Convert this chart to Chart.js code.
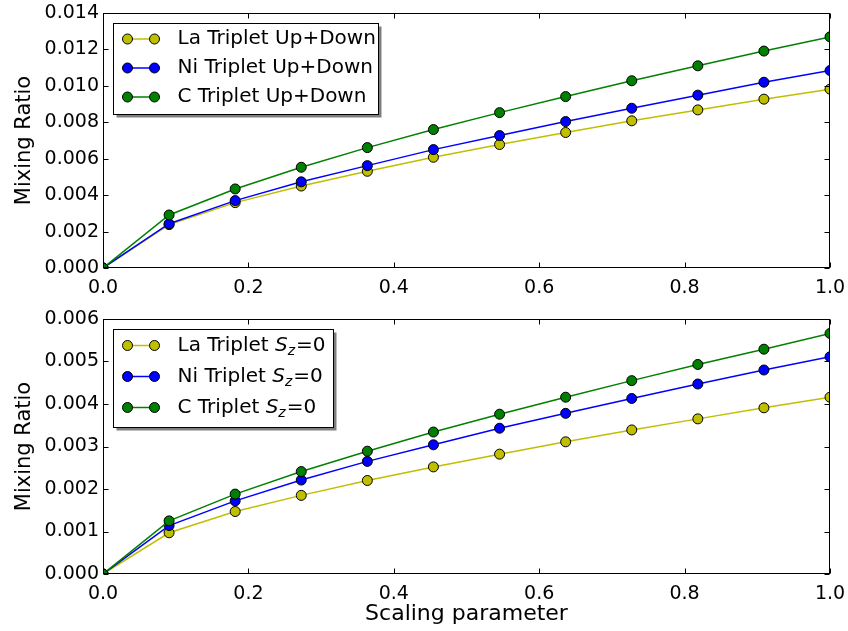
<!DOCTYPE html>
<html>
<head>
<meta charset="utf-8">
<script src="https://cdn.jsdelivr.net/npm/chart.js@4.4.0/dist/chart.umd.min.js"></script>
<style>
  html, body { margin: 0; padding: 0; background: #fff; }
  #wrap { position: relative; width: 848px; height: 631px; }
  canvas { position: absolute; left: 0; }
  #chartTop { top: 0; }
  #chartBottom { top: 300px; }
</style>
</head>
<body>
<div id="wrap">
  <canvas id="chartTop" width="848" height="300"></canvas>
  <canvas id="chartBottom" width="848" height="331"></canvas>
</div>
<script>
// ---- data ----
const scaling = [0, 0.0909, 0.1818, 0.2727, 0.3636, 0.4545, 0.5455, 0.6364, 0.7273, 0.8182, 0.9091, 1.0];

const topLabels = ['La Triplet Up+Down', 'Ni Triplet Up+Down', 'C Triplet Up+Down'];
const laUpDown = [0, 0.00238, 0.00359, 0.0045, 0.00531, 0.00608, 0.00678, 0.00744, 0.00808, 0.00868, 0.00927, 0.00982];
const niUpDown = [0, 0.00243, 0.0037, 0.00473, 0.00562, 0.0065, 0.00727, 0.00804, 0.00877, 0.00949, 0.0102, 0.01084];
const cUpDown  = [0, 0.00291, 0.00434, 0.00553, 0.00661, 0.0076, 0.00853, 0.00941, 0.01028, 0.0111, 0.01191, 0.01269];

const bottomLabels = ['La Triplet $S_z$=0', 'Ni Triplet $S_z$=0', 'C Triplet $S_z$=0'];
const laSz0 = [0, 0.00097, 0.00147, 0.00185, 0.0022, 0.00252, 0.00282, 0.00311, 0.00339, 0.00365, 0.00391, 0.00416];
const niSz0 = [0, 0.00114, 0.00172, 0.00221, 0.00265, 0.00304, 0.00343, 0.00378, 0.00413, 0.00447, 0.0048, 0.00511];
const cSz0  = [0, 0.00125, 0.00188, 0.00241, 0.00289, 0.00334, 0.00376, 0.00416, 0.00455, 0.00493, 0.00529, 0.00566];

const xTicks = { min: 0, max: 1, step: 0.2 };
const topYTicks = { min: 0, max: 0.014, step: 0.002 };
const bottomYTicks = { min: 0, max: 0.006, step: 0.001 };

const seriesColors = ['#bfbf00', '#0000ff', '#008000'];
const FONT = 'DejaVu Sans';

// ---- helpers ----

// draws "text $S_z$ text" with a small mathtext subset, returns width
function drawRich(ctx, label, x, y, size, draw) {
    const parts = label.split('$');
    let cx = x;
    parts.forEach((p, i) => {
        if (i % 2 === 0) {
            ctx.font = `${size}px "${FONT}"`;
            if (draw) ctx.fillText(p, cx, y);
            cx += ctx.measureText(p).width;
        } else {
            const [base, sub] = p.split('_');
            ctx.font = `italic ${size}px "${FONT}"`;
            if (draw) ctx.fillText(base, cx, y);
            cx += ctx.measureText(base).width;
            if (sub) {
                ctx.font = `italic ${Math.round(size * 0.7)}px "${FONT}"`;
                if (draw) ctx.fillText(sub, cx, y + size * 0.28);
                cx += ctx.measureText(sub).width + 1;
            }
        }
    });
    return cx - x;
}

// box around the axes + inward ticks on all four sides
const framePlugin = {
    id: 'frame',
    afterDatasetsDraw(chart) {
        const { ctx, chartArea: a, scales: { x, y } } = chart;
        const L = Math.round(a.left) + 0.5, R = Math.round(a.right) - 0.5;
        const T = Math.round(a.top) + 0.5, B = Math.round(a.bottom) - 0.5;
        ctx.save();
        ctx.strokeStyle = '#000';
        ctx.lineWidth = 1;
        ctx.beginPath();
        x.ticks.forEach(t => {
            const px = Math.round(x.getPixelForValue(t.value)) + 0.5;
            ctx.moveTo(px, B); ctx.lineTo(px, B - 5);
            ctx.moveTo(px, T); ctx.lineTo(px, T + 5);
        });
        y.ticks.forEach(t => {
            const py = Math.round(y.getPixelForValue(t.value)) + 0.5;
            ctx.moveTo(L, py); ctx.lineTo(L + 5, py);
            ctx.moveTo(R, py); ctx.lineTo(R - 5, py);
        });
        ctx.stroke();
        ctx.strokeRect(L, T, R - L, B - T);
        ctx.restore();
    }
};

// matplotlib-like legend with shadow, upper left inside the axes
const mplLegendPlugin = {
    id: 'mplLegend',
    afterDraw(chart, args, opts) {
        const { ctx, chartArea: a } = chart;
        const size = 20;
        const rowH = opts.rowH;
        const sets = chart.data.datasets;
        const left = Math.round(a.left) + 10.5;
        const top = Math.round(a.top) + 10.5;
        ctx.save();
        let textW = 0;
        sets.forEach(ds => { textW = Math.max(textW, drawRich(ctx, ds.label, 0, 0, size, false)); });
        const w = Math.round(64 + textW + opts.padRight);
        const h = Math.round(rowH * 3 + opts.padV);

        ctx.fillStyle = 'rgba(0,0,0,0.5)';
        ctx.fillRect(left + 3, top + 3, w, h);
        ctx.fillStyle = '#fff';
        ctx.fillRect(left, top, w, h);
        ctx.strokeStyle = '#000';
        ctx.lineWidth = 1;
        ctx.strokeRect(left, top, w, h);

        sets.forEach((ds, i) => {
            const cy = top + opts.firstRow + i * rowH;
            const x0 = left + 14, x1 = left + 41;
            ctx.strokeStyle = ds.borderColor;
            ctx.lineWidth = 1.5;
            ctx.beginPath(); ctx.moveTo(x0, cy); ctx.lineTo(x1, cy); ctx.stroke();
            [x0, x1].forEach(mx => {
                ctx.beginPath();
                ctx.arc(mx, cy, 5, 0, Math.PI * 2);
                ctx.fillStyle = ds.pointBackgroundColor;
                ctx.fill();
                ctx.strokeStyle = '#000';
                ctx.lineWidth = 1;
                ctx.stroke();
            });
            ctx.fillStyle = '#000';
            ctx.textBaseline = 'middle';
            ctx.textAlign = 'left';
            drawRich(ctx, ds.label, left + 64, cy, size, true);
        });
        ctx.restore();
    }
};

function buildDatasets(labels, seriesList) {
    return seriesList.map((vals, i) => ({
        label: labels[i],
        data: scaling.map((x, j) => ({ x: x, y: vals[j] })),
        borderColor: seriesColors[i],
        backgroundColor: seriesColors[i],
        pointBackgroundColor: seriesColors[i],
        pointBorderColor: '#000',
        pointBorderWidth: 1,
        pointRadius: 5,
        borderWidth: 1.5,
        tension: 0,
        clip: 0,
        order: seriesList.length - i
    }));
}

function makeChart(canvasId, datasets, yTicks, opts) {
    return new Chart(document.getElementById(canvasId), {
        type: 'line',
        data: { datasets: datasets },
        plugins: [framePlugin, mplLegendPlugin],
        options: {
            responsive: false,
            animation: false,
            events: [],
            layout: { autoPadding: false, padding: { top: opts.padTop, right: 18, left: 0, bottom: 0 } },
            plugins: {
                legend: { display: false },
                tooltip: { enabled: false },
                mplLegend: opts.legend
            },
            scales: {
                x: {
                    type: 'linear',
                    min: xTicks.min, max: xTicks.max,
                    grid: { display: false, drawTicks: false },
                    border: { display: false },
                    ticks: {
                        stepSize: xTicks.step,
                        color: '#000',
                        padding: 9,
                        maxRotation: 0,
                        font: { family: FONT, size: 19 },
                        callback: v => v.toFixed(1)
                    },
                    title: {
                        display: opts.xTitle,
                        text: 'Scaling parameter',
                        color: '#000',
                        font: { family: FONT, size: 22 },
                        padding: { top: 0, bottom: 4 }
                    },
                    afterFit: s => {
                        s.height = opts.xHeight;
                        s.paddingLeft = 0;
                        s.paddingRight = 0;
                    }
                },
                y: {
                    min: yTicks.min, max: yTicks.max,
                    grid: { display: false, drawTicks: false },
                    border: { display: false },
                    ticks: {
                        stepSize: yTicks.step,
                        color: '#000',
                        padding: 4,
                        font: { family: FONT, size: 19 },
                        callback: v => v.toFixed(3)
                    },
                    title: {
                        display: true,
                        text: 'Mixing Ratio',
                        color: '#000',
                        font: { family: FONT, size: 21 },
                        padding: { top: 12, bottom: 0 }
                    },
                    afterFit: s => {
                        s.width = 103;
                        s.paddingTop = 0;
                        s.paddingBottom = 0;
                    }
                }
            }
        }
    });
}

makeChart('chartTop', buildDatasets(topLabels, [laUpDown, niUpDown, cUpDown]), topYTicks, {
    padTop: 13, xHeight: 32, xTitle: false,
    legend: { rowH: 29, firstRow: 15.5, padV: 4, padRight: 3 }
});

makeChart('chartBottom', buildDatasets(bottomLabels, [laSz0, niSz0, cSz0]), bottomYTicks, {
    padTop: 19, xHeight: 57, xTitle: true,
    legend: { rowH: 31, firstRow: 16, padV: 5, padRight: 8 }
});
</script>
</body>
</html>
